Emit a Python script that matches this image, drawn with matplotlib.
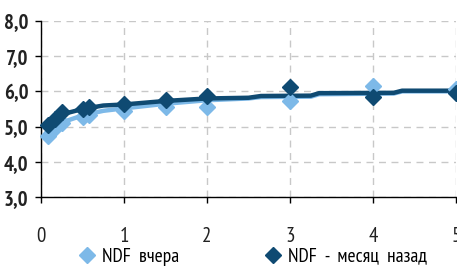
import matplotlib
matplotlib.use("Agg")
import matplotlib.pyplot as plt
from matplotlib.lines import Line2D
from matplotlib.ticker import FuncFormatter

# NDF points (years -> %)
pts_x = [0.08, 0.17, 0.25, 0.5, 0.58, 1, 1.5, 2, 3, 4, 5]
yesterday_pts = [4.75, 4.97, 5.1, 5.28, 5.33, 5.45, 5.55, 5.55, 5.72, 6.15, 6.08]
month_ago_pts = [5.05, 5.22, 5.42, 5.5, 5.55, 5.63, 5.77, 5.86, 6.13, 5.85, 5.95]

# fitted curves
curve_x = [0.05, 0.17, 0.25, 0.5, 0.75, 1.0, 1.5, 2.0, 2.5, 2.65, 3.25, 3.35, 4.25, 4.35, 5.0]
yesterday_curve = [4.8, 5.0, 5.12, 5.32, 5.45, 5.52, 5.65, 5.75, 5.8, 5.84, 5.85, 5.92, 5.94, 6.0, 6.0]
month_ago_curve = [5.05, 5.22, 5.35, 5.5, 5.6, 5.63, 5.73, 5.8, 5.82, 5.87, 5.88, 5.95, 5.96, 6.02, 6.02]

labels = ["NDF  вчера", "NDF  -  месяц  назад"]
light = "#7DB9E8"
dark = "#0F4A72"
font = ["PT Sans Narrow", "DejaVu Sans"]

fig = plt.figure(figsize=(4.57, 2.66), dpi=100)
ax = fig.add_axes([0.0897, 0.258, 0.9083, 0.664])

ax.plot(curve_x, yesterday_curve, color=light, lw=3.2, solid_capstyle="butt", zorder=3)
ax.plot(curve_x, month_ago_curve, color=dark, lw=3.2, solid_capstyle="butt", zorder=4)
ax.plot(pts_x, yesterday_pts, ls="none", marker="D", ms=8.5, color=light, zorder=5, clip_on=False)
ax.plot(pts_x, month_ago_pts, ls="none", marker="D", ms=8.5, color=dark, zorder=6, clip_on=False)

ax.set_xlim(0, 5)
ax.set_ylim(3, 8)
ax.set_xticks([0, 1, 2, 3, 4, 5])
ax.set_yticks([3, 4, 5, 6, 7, 8])
ax.yaxis.set_major_formatter(FuncFormatter(lambda v, p: f"{v:.1f}".replace(".", ",")))

ax.grid(True, color="#C8C8C8", ls=(0, (5, 4)), lw=1)
ax.set_axisbelow(True)
for s in ["top", "right"]:
    ax.spines[s].set_visible(False)
for s in ["left", "bottom"]:
    ax.spines[s].set_color("black")
    ax.spines[s].set_linewidth(1)

ax.tick_params(axis="y", length=4, width=1, pad=5)
ax.tick_params(axis="x", length=4, width=1, pad=17)
for t in ax.get_yticklabels():
    t.set_fontfamily(font)
    t.set_fontsize(15)
    t.set_fontweight("bold")
    t.set_color("#222222")
for t in ax.get_xticklabels():
    t.set_fontfamily(font)
    t.set_fontsize(15)
    t.set_color("#222222")

handles = [
    Line2D([], [], ls="none", marker="D", ms=8, color=light),
    Line2D([], [], ls="none", marker="D", ms=8, color=dark),
]
fig.legend(handles, labels, loc="center", bbox_to_anchor=(0.552, 0.035), ncol=2,
           frameon=False, handletextpad=0.3, columnspacing=4.3, handlelength=1,
           prop={"family": font, "size": 14})

fig.savefig("out.png", dpi=100)
